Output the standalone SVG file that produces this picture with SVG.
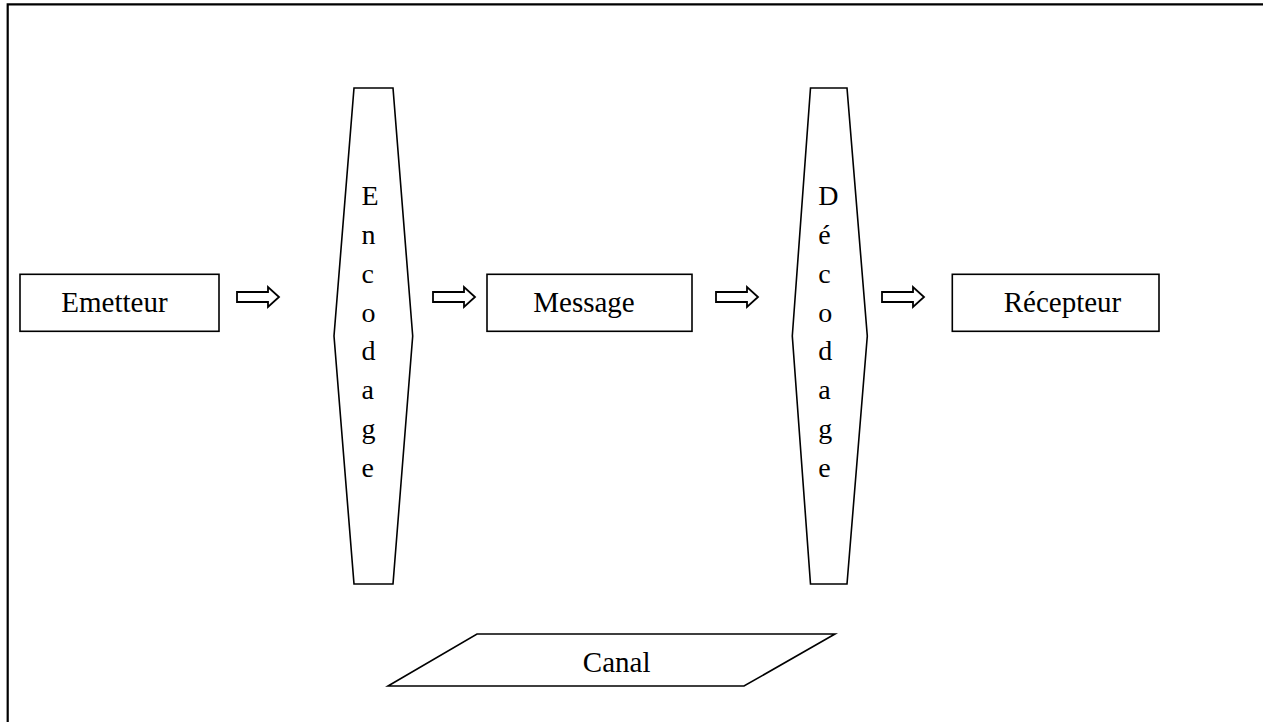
<svg xmlns="http://www.w3.org/2000/svg" width="1263" height="722" viewBox="0 0 1263 722">
<style>
.shape{fill:#fff;stroke:#000;stroke-width:1.6}
.arrow{fill:#fff;stroke:#000;stroke-width:1.8;stroke-linejoin:miter}
text{font-family:"Liberation Serif","Times New Roman",serif;font-size:29px;fill:#000}
.v{font-size:28px}
</style>
<defs>
<path id="blk" d="M0,5 H31 V0 L42,10 L31,20 V15 H0 Z"/>
</defs>
<rect width="1263" height="722" fill="#fff"/>
<path d="M7.7,722 V4.3 H1263" fill="none" stroke="#000" stroke-width="2.2"/>
<g id="emetteur">
<rect class="shape" x="20" y="274.3" width="199" height="57"/>
<text x="114.5" y="311.7" text-anchor="middle">Emetteur</text>
</g>
<g id="encodage">
<polygon class="shape" points="354,88 393,88 412.7,336 393,584 354,584 334,336"/>
<text class="v" x="361.5" y="205">E</text>
<text class="v" x="361.5" y="244">n</text>
<text class="v" x="361.5" y="283">c</text>
<text class="v" x="361.5" y="322">o</text>
<text class="v" x="361.5" y="360">d</text>
<text class="v" x="361.5" y="399">a</text>
<text class="v" x="361.5" y="438">g</text>
<text class="v" x="361.5" y="477">e</text>
</g>
<g id="message">
<rect class="shape" x="487" y="274.3" width="205" height="57"/>
<text x="584" y="311.7" text-anchor="middle">Message</text>
</g>
<g id="decodage">
<polygon class="shape" points="810.5,88 847,88 867.3,336 847,584 810.5,584 792.3,336"/>
<text class="v" x="818.3" y="205">D</text>
<text class="v" x="818.3" y="244">é</text>
<text class="v" x="818.3" y="283">c</text>
<text class="v" x="818.3" y="322">o</text>
<text class="v" x="818.3" y="360">d</text>
<text class="v" x="818.3" y="399">a</text>
<text class="v" x="818.3" y="438">g</text>
<text class="v" x="818.3" y="477">e</text>
</g>
<g id="recepteur">
<rect class="shape" x="952.3" y="274.3" width="206.7" height="57"/>
<text x="1062.5" y="311.7" text-anchor="middle">Récepteur</text>
</g>
<g id="canal">
<polygon class="shape" points="477,634 835,634 744,686 388,686"/>
<text x="616.7" y="671.7" text-anchor="middle">Canal</text>
</g>
<g id="connectors">
<use href="#blk" class="arrow" x="237" y="287"/>
<use href="#blk" class="arrow" x="433" y="287"/>
<use href="#blk" class="arrow" x="716" y="287"/>
<use href="#blk" class="arrow" x="882" y="287"/>
</g>
</svg>
